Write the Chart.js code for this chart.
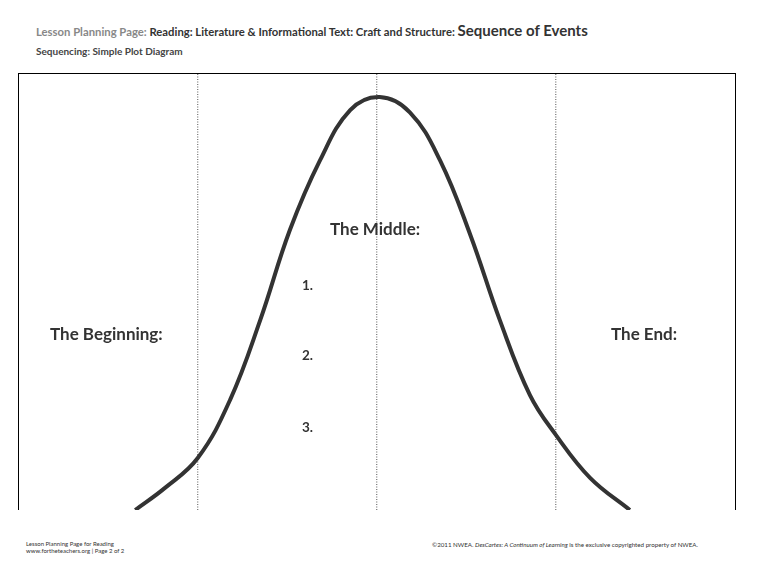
<!DOCTYPE html>
<html><head><meta charset="utf-8">
<script src="https://cdn.jsdelivr.net/npm/chart.js@4/dist/chart.umd.min.js"></script>
<style>
body{margin:0;width:759px;height:588px;background:#fff;font-family:Lato,sans-serif;position:relative;overflow:hidden}
.t{position:absolute;white-space:nowrap}
#box{position:absolute;left:18px;top:73px;width:718px;height:437px;border:1.3px solid #000;border-bottom:none;box-sizing:border-box}
#wrap{position:absolute;left:18px;top:73px;width:719px;height:437px}
.lab{position:absolute;font-weight:bold;color:#333;font-size:17px}
.num{position:absolute;font-weight:bold;color:#333;font-size:13.5px}
</style></head><body>
<div class="t" style="left:36px;top:21px;font-size:11.3px;font-weight:bold;color:#888">Lesson Planning Page: <span style="color:#333">Reading: Literature &amp; Informational Text: Craft and Structure:</span> <span style="color:#333;font-size:15px">Sequence of Events</span></div>
<div class="t" style="left:36px;top:45px;font-size:10px;font-weight:bold;color:#444">Sequencing: Simple Plot Diagram</div>
<div id="wrap"><canvas id="c"></canvas></div>
<div id="box"></div>
<div class="lab" style="left:50px;top:323px">The Beginning:</div>
<div class="lab" style="left:330px;top:218px">The Middle:</div>
<div class="lab" style="left:611px;top:323px">The End:</div>
<div class="num" style="left:302px;top:277px">1.</div>
<div class="num" style="left:302px;top:347px">2.</div>
<div class="num" style="left:302px;top:419px">3.</div>
<div class="t" style="left:26px;top:540px;font-size:6px;color:#333;line-height:7px">Lesson Planning Page for Reading<br>www.fortheteachers.org | Page 2 of 2</div>
<div class="t" style="left:432px;top:541px;font-size:6.2px;color:#333">©2011 NWEA. <i>DesCartes: A Continuum of Learning</i> is the exclusive copyrighted property of NWEA.</div>
<script>
const curveX=[16.3,20.4,25.0,29.5,33.7,37.8,42.0,46.2,50.3,54.5,58.7,62.9,67.0,71.2,74.8,79.6,85.1];
const curveY=[0,5,11.9,25.2,43.5,64,80,91.5,94.5,91,80,63,43.5,26.3,17.2,7.3,0];
const dividers=[25.0,49.9,74.8];
const ds=[{data:curveX.map((x,i)=>({x:x,y:curveY[i]})),borderColor:'#333',borderWidth:4,pointRadius:0,tension:0.4,fill:false}];
dividers.forEach(d=>ds.push({data:[{x:d,y:0},{x:d,y:100}],borderColor:'#555',borderWidth:1,borderDash:[1,1.5],pointRadius:0,fill:false}));
new Chart(document.getElementById('c'),{type:'line',data:{datasets:ds},
options:{responsive:true,maintainAspectRatio:false,animation:false,layout:{padding:0},
plugins:{legend:{display:false},tooltip:{enabled:false}},
scales:{x:{type:'linear',min:0,max:100,display:false},y:{min:0,max:100,display:false}}}});
</script>
</body></html>
